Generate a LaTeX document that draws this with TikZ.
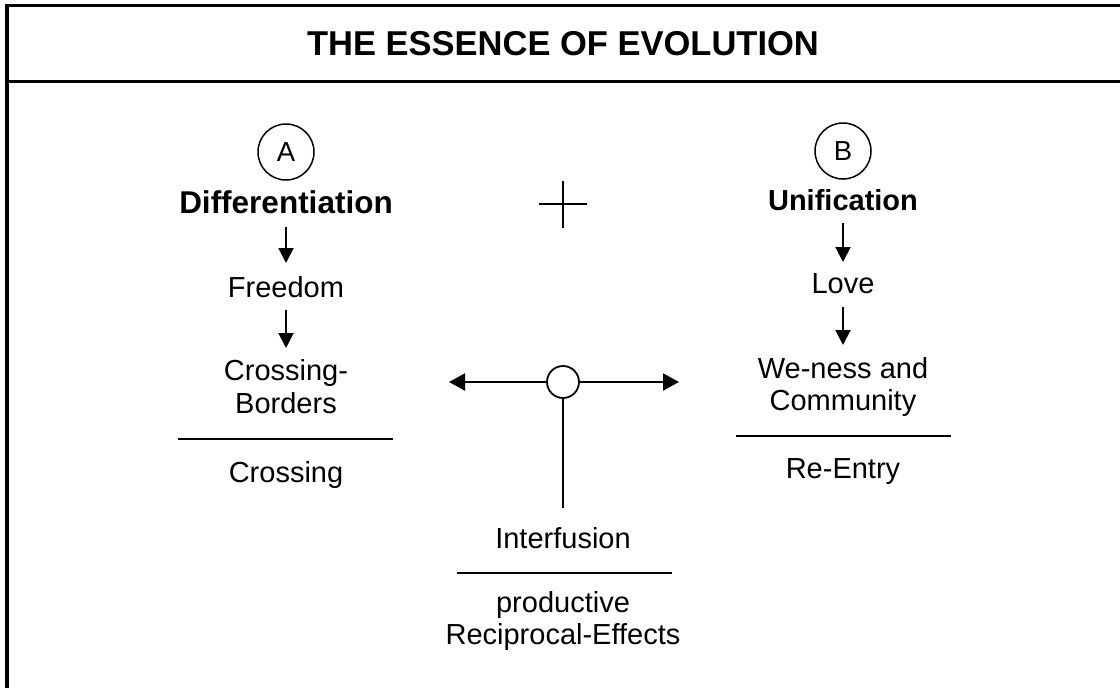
\documentclass[tikz,border=0pt]{standalone}
\usepackage{fontspec}
\setmainfont{Liberation Sans}
\usetikzlibrary{arrows.meta}
\begin{document}
\begin{tikzpicture}[x=1pt,y=-1pt,
  txt/.style={font=\fontsize{29}{33}\selectfont, inner sep=0pt, anchor=base},
  hdA/.style={font=\fontsize{31.5}{36}\selectfont\bfseries, inner sep=0pt, anchor=base},
  hdB/.style={font=\fontsize{29}{33}\selectfont\bfseries, inner sep=0pt, anchor=base},
  titletxt/.style={font=\fontsize{34.5}{40}\selectfont\bfseries, inner sep=0pt, anchor=base},
  letter/.style={circle, draw, line width=1.5pt, minimum size=56pt, inner sep=0pt, font=\fontsize{27.5}{30}\selectfont},
  hub/.style={circle, draw, fill=white, line width=1.8pt, minimum size=32pt, inner sep=0pt},
  arr/.style={line width=2pt, -{Triangle[length=15pt,width=15pt]}},
  harr/.style={line width=2pt, -{Triangle[length=16pt,width=17pt]}},
  rule/.style={line width=1.6pt},
  frame/.style={line width=3.5pt}
]
\useasboundingbox (0,0) rectangle (1120,688);
\clip (0,0) rectangle (1120,688);

% frame
\draw[frame] (7,5.5) rectangle (1130,700);
\draw[frame] (7,81.5) -- (1130,81.5);
\node[titletxt] (title) at (563,55) {THE ESSENCE OF EVOLUTION};

% column A
\node[letter] (A) at (286,152) {A};
\node[hdA] (diff) at (286,213) {Differentiation};
\node[txt] (free) at (286,297) {Freedom};
\node[txt] (cb1) at (286,380) {Crossing-};
\node[txt] (cb2) at (286,413) {Borders};
\node[txt] (cross) at (286,482) {Crossing};
\draw[arr] ([yshift=-14pt]diff.base) -- ([yshift=34pt]free.base);
\draw[arr] ([yshift=-13pt]free.base) -- ([yshift=32pt]cb1.base);
\coordinate (la1) at (178,439);
\coordinate (la2) at (393,439);
\draw[rule] (la1) -- (la2);

% column B
\node[letter] (B) at (843,151) {B};
\node[hdB] (unif) at (843,210) {Unification};
\node[txt] (love) at (843,293) {Love};
\node[txt] (we1) at (843,378) {We-ness and};
\node[txt] (we2) at (843,410) {Community};
\node[txt] (reent) at (843,478) {Re-Entry};
\draw[arr] ([yshift=-13pt]unif.base) -- ([yshift=31pt]love.base);
\draw[arr] ([yshift=-14pt]love.base) -- ([yshift=33pt]we1.base);
\coordinate (lb1) at (736,436);
\coordinate (lb2) at (951,436);
\draw[rule] (lb1) -- (lb2);

% plus sign
\coordinate (plc) at (563,204);
\draw[line width=2pt] ([xshift=-24pt]plc) -- ([xshift=24pt]plc);
\draw[line width=2pt] ([yshift=23pt]plc) -- ([yshift=-24pt]plc);

% middle
\node[hub] (hub) at (563,382) {};
\coordinate (tipL) at (449,382);
\coordinate (tipR) at (679,382);
\coordinate (stemEnd) at (563,508);
\draw[harr] (hub.west) -- (tipL);
\draw[harr] (hub.east) -- (tipR);
\draw[line width=2pt] (hub.south) -- (stemEnd);
\node[txt] (inter) at (563,548) {Interfusion};
\coordinate (lc1) at (457,573);
\coordinate (lc2) at (672,573);
\draw[rule] (lc1) -- (lc2);
\node[txt] (prod) at (563,612) {productive};
\node[txt] (recip) at (563,644) {Reciprocal-Effects};
\end{tikzpicture}
\end{document}
